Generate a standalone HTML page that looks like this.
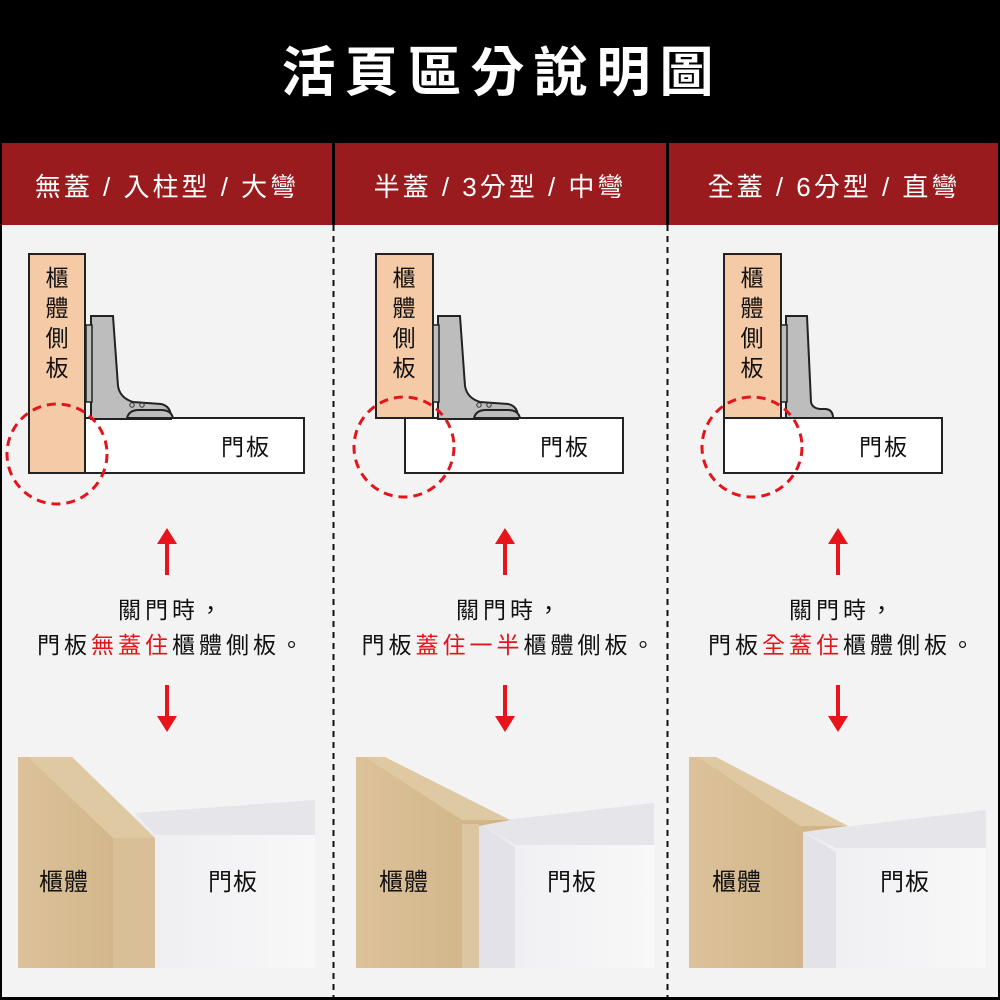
<!DOCTYPE html>
<html><head><meta charset="utf-8"><style>
html,body{margin:0;padding:0;background:#000;}
svg{display:block;font-family:"Liberation Sans","Noto Sans CJK TC",sans-serif;}
</style></head><body>
<svg width="1000" height="1000" viewBox="0 0 1000 1000" xmlns="http://www.w3.org/2000/svg">
<defs>
<g id="hinge">
  <path d="M0,0 H22 L27,70 Q29,82 42,86 L70,88 Q80,90 80,102 L80,103 H0 Z" fill="#bdbdbd" stroke="#222" stroke-width="2"/>
  <rect x="-5" y="9" width="6" height="77" fill="#bdbdbd" stroke="#222" stroke-width="1.5"/>
  <path d="M36,102 Q38,94 48,94 H70 Q80,94 82,102 Z" fill="#bdbdbd" stroke="#222" stroke-width="2"/>
  <circle cx="41" cy="89" r="2.2" fill="none" stroke="#333" stroke-width="1"/>
  <circle cx="51" cy="89" r="2.2" fill="none" stroke="#333" stroke-width="1"/>
</g>
<g id="up"><line x1="0" y1="10" x2="0" y2="47" stroke="#e8141c" stroke-width="4"/><path d="M-10,16 L0,0 L10,16 Z" fill="#e8141c"/></g>
<g id="down"><line x1="0" y1="0" x2="0" y2="37" stroke="#e8141c" stroke-width="4"/><path d="M-10,31 L0,47 L10,31 Z" fill="#e8141c"/></g>
<linearGradient id="wood" x1="0" x2="1"><stop offset="0" stop-color="#dcc29a"/><stop offset="1" stop-color="#cfb185"/></linearGradient>
<linearGradient id="door" x1="0" x2="1"><stop offset="0" stop-color="#eeeef2"/><stop offset="1" stop-color="#f8f8f8"/></linearGradient>
</defs>
<rect width="1000" height="1000" fill="#000"/>
<rect x="2" y="225" width="996" height="772" fill="#f3f3f3"/>
<text x="502" y="91" font-size="54" font-weight="bold" fill="#fff" text-anchor="middle" letter-spacing="9">活頁區分說明圖</text>
<rect x="2" y="143" width="330" height="82" fill="#9a1b1e"/>
<rect x="335" y="143" width="331" height="82" fill="#9a1b1e"/>
<rect x="669" y="143" width="329" height="82" fill="#9a1b1e"/>
<g font-size="26" fill="#fff" text-anchor="middle" letter-spacing="3">
<text x="167" y="196">無蓋 / 入柱型 / 大彎</text>
<text x="500" y="196">半蓋 / 3分型 / 中彎</text>
<text x="834" y="196">全蓋 / 6分型 / 直彎</text>
</g>
<line x1="333.5" y1="225" x2="333.5" y2="997" stroke="#111" stroke-width="2" stroke-dasharray="6,5"/>
<line x1="667.5" y1="225" x2="667.5" y2="997" stroke="#111" stroke-width="2" stroke-dasharray="6,5"/>

<rect x="29" y="254" width="56" height="219" fill="#f5cba7" stroke="#222" stroke-width="2"/>
<rect x="85" y="418" width="219" height="55" fill="#fff" stroke="#222" stroke-width="2"/>
<use href="#hinge" x="91" y="316"/>
<circle cx="57" cy="454" r="50" fill="none" stroke="#e3141b" stroke-width="3" stroke-dasharray="9,6"/>
<rect x="376" y="254" width="57" height="164" fill="#f5cba7" stroke="#222" stroke-width="2"/>
<rect x="405" y="418" width="218" height="55" fill="#fff" stroke="#222" stroke-width="2"/>
<use href="#hinge" x="438" y="316"/>
<circle cx="404" cy="447" r="50" fill="none" stroke="#e3141b" stroke-width="3" stroke-dasharray="9,6"/>
<rect x="724" y="254" width="57" height="164" fill="#f5cba7" stroke="#222" stroke-width="2"/>
<rect x="724" y="418" width="218" height="55" fill="#fff" stroke="#222" stroke-width="2"/>
<path d="M786,316 H807 L811,402 Q812,408 820,409 H826 Q833,410 833,418 H786 Z" fill="#bdbdbd" stroke="#222" stroke-width="2"/>
<rect x="781" y="325" width="6" height="77" fill="#bdbdbd" stroke="#222" stroke-width="1.5"/>
<circle cx="752" cy="447" r="50" fill="none" stroke="#e3141b" stroke-width="3" stroke-dasharray="9,6"/>

<g font-size="23" fill="#111" text-anchor="middle">
<text x="57" y="286">櫃</text><text x="57" y="316">體</text><text x="57" y="346">側</text><text x="57" y="376">板</text>
<text x="404" y="286">櫃</text><text x="404" y="316">體</text><text x="404" y="346">側</text><text x="404" y="376">板</text>
<text x="752" y="286">櫃</text><text x="752" y="316">體</text><text x="752" y="346">側</text><text x="752" y="376">板</text>
</g>
<g font-size="23" fill="#111" text-anchor="middle" letter-spacing="2">
<text x="246" y="455">門板</text><text x="565" y="455">門板</text><text x="884" y="455">門板</text>
</g>

<use href="#up" x="167" y="528"/><use href="#up" x="505" y="528"/><use href="#up" x="838" y="528"/>
<use href="#down" x="167" y="685"/><use href="#down" x="505" y="685"/><use href="#down" x="838" y="685"/>

<g font-size="23" fill="#111" text-anchor="middle" letter-spacing="4">
<text x="172" y="618">關門時，</text>
<text x="172" y="653">門板<tspan fill="#e3141b">無蓋住</tspan>櫃體側板。</text>
<text x="510" y="618">關門時，</text>
<text x="510" y="653">門板<tspan fill="#e3141b">蓋住一半</tspan>櫃體側板。</text>
<text x="843" y="618">關門時，</text>
<text x="843" y="653">門板<tspan fill="#e3141b">全蓋住</tspan>櫃體側板。</text>
</g>

<path d="M135,813 L315,800 V968 H135 Z" fill="url(#door)"/>
<path d="M135,813 L315,800 V835 H155 Z" fill="#e6e6ea"/>
<path d="M18,757 H72 L155,838 V968 H18 Z" fill="url(#wood)"/>
<path d="M28,757 H72 L155,838 H113 Z" fill="#dfc9a2"/>
<rect x="113" y="838" width="42" height="130" fill="#d8bf97"/>
<path d="M479,823 L654,803 V968 H479 Z" fill="url(#door)"/>
<path d="M479,823 L654,803 V845 H515 Z" fill="#e6e6ea"/>
<path d="M479,823 L515,847 V968 H479 Z" fill="#e2e2e8"/>
<path d="M356,757 H380 L510,820 L479,826 V968 H356 Z" fill="url(#wood)"/>
<path d="M365,757 H385 L510,820 H462 Z" fill="#dfc9a2"/>
<rect x="462" y="824" width="17" height="144" fill="#dcc6a2"/>
<path d="M803,832 L986,810 V968 H803 Z" fill="url(#door)"/>
<path d="M803,832 L986,810 V848 H836 Z" fill="#e6e6ea"/>
<path d="M803,832 L836,852 V968 H803 Z" fill="#e2e2e8"/>
<path d="M689,757 H712 L848,826 L803,832 V968 H689 Z" fill="url(#wood)"/>
<path d="M698,757 H716 L848,826 H800 Z" fill="#dfc9a2"/>

<g font-size="24" fill="#111" text-anchor="middle" letter-spacing="1">
<text x="64" y="890">櫃體</text><text x="233" y="890">門板</text>
<text x="404" y="890">櫃體</text><text x="572" y="890">門板</text>
<text x="737" y="890">櫃體</text><text x="905" y="890">門板</text>
</g>
</svg>
</body></html>
